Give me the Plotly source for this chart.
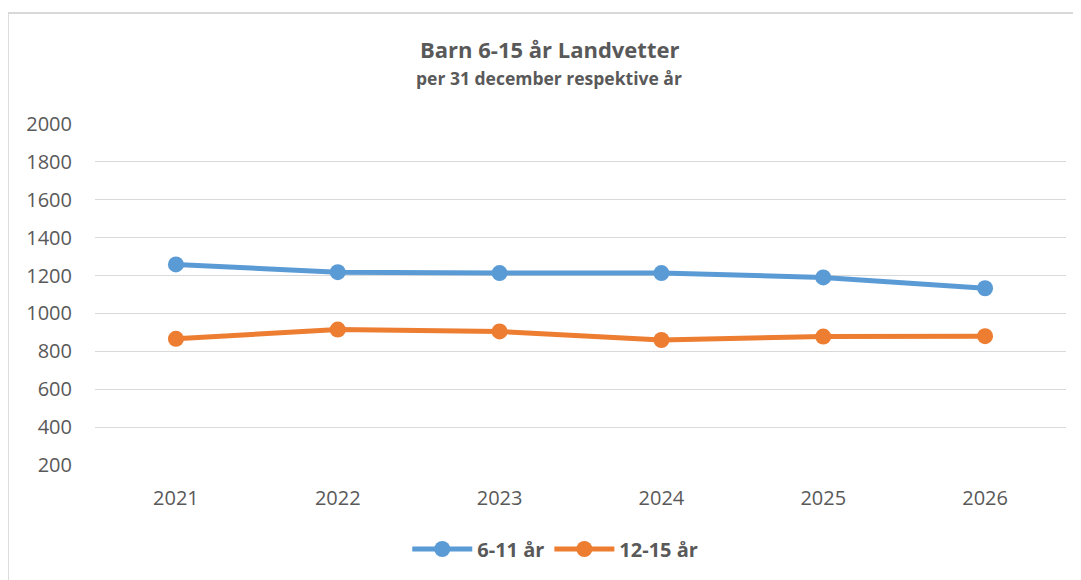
import plotly.graph_objects as go

years = ["2021", "2022", "2023", "2024", "2025", "2026"]
age_6_11 = [1259, 1218, 1213, 1213, 1190, 1133]
age_12_15 = [866, 915, 905, 860, 878, 880]
y_ticks = [200, 400, 600, 800, 1000, 1200, 1400, 1600, 1800, 2000]

FONT = "Open Sans"
GRAY = "#595959"

fig = go.Figure()
fig.add_trace(go.Scatter(x=years, y=age_6_11, name="6-11 år", mode="lines+markers",
                         line=dict(color="#5B9BD5", width=5),
                         marker=dict(size=16, color="#5B9BD5")))
fig.add_trace(go.Scatter(x=years, y=age_12_15, name="12-15 år", mode="lines+markers",
                         line=dict(color="#ED7D31", width=5),
                         marker=dict(size=16, color="#ED7D31")))

PH = 341.0
fig.update_layout(
    width=1073, height=572,
    margin=dict(l=87, r=15, t=116, b=115),
    paper_bgcolor="white", plot_bgcolor="white",
    font=dict(family=FONT, color=GRAY, size=20),
    xaxis=dict(type="category", range=[-0.5, 5.5], showgrid=False, showline=False, ticks="",
               tickfont=dict(size=20, color=GRAY), ticklabelstandoff=19),
    yaxis=dict(range=[200, 2000], tickvals=y_ticks, showgrid=True, gridcolor="#D9D9D9",
               gridwidth=1.3, zeroline=False, showline=False, ticks="",
               tickfont=dict(size=20, color=GRAY), ticklabelstandoff=22),
    legend=dict(orientation="h", x=0.474, xanchor="center", y=-84 / PH, yanchor="middle",
                font=dict(size=20, color=GRAY, family=FONT, weight="bold"),
                itemwidth=60),
    showlegend=True,
)

fig.add_annotation(text="<b>Barn 6-15 år Landvetter</b>", xref="paper", yref="paper",
                   x=0.4676, y=1 + (116 - 41) / PH, xanchor="center", yanchor="middle",
                   showarrow=False, font=dict(family=FONT, size=22, color=GRAY))
fig.add_annotation(text="<b>per 31 december respektive år</b>", xref="paper", yref="paper",
                   x=0.4676, y=1 + (116 - 70) / PH, xanchor="center", yanchor="middle",
                   showarrow=False, font=dict(family=FONT, size=17.5, color=GRAY))

# outer chart border (extends past the right and bottom edges)
fig.add_shape(type="rect", xref="paper", yref="paper",
              x0=-87 / 971, x1=(1090 - 87) / 971, y0=-(115 + 20) / PH, y1=1 + (116 - 5) / PH,
              line=dict(color="#D9D9D9", width=1.8), layer="below")

fig.write_html("out.html")
